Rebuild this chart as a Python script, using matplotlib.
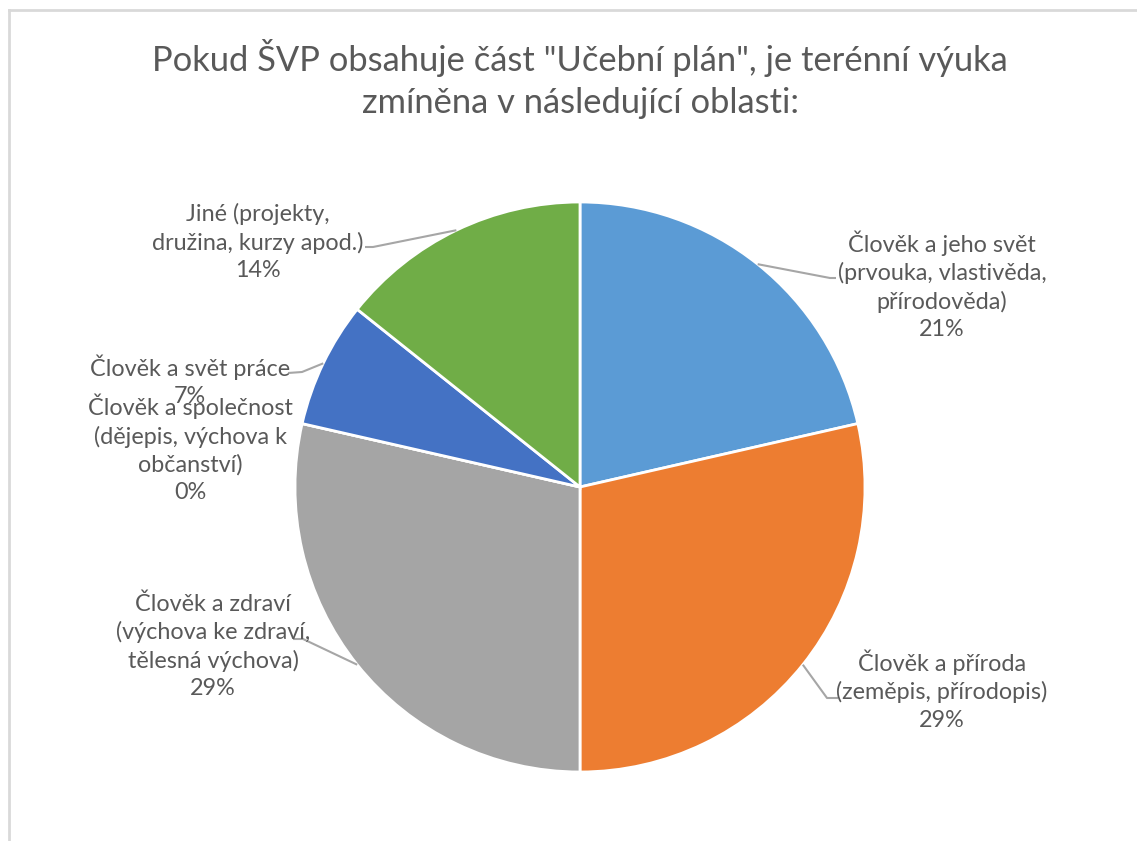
import numpy as np
import matplotlib.pyplot as plt
from matplotlib.lines import Line2D

# data (counts of schools, shown as percentages)
categories = [
    'Člověk a jeho svět\n(prvouka, vlastivěda,\npřírodověda)',
    'Člověk a příroda\n(zeměpis, přírodopis)',
    'Člověk a zdraví\n(výchova ke zdraví,\ntělesná výchova)',
    'Člověk a společnost\n(dějepis, výchova k\nobčanství)',
    'Člověk a svět práce',
    'Jiné (projekty,\ndružina, kurzy apod.)',
]
counts = [3, 4, 4, 0, 1, 2]
colors = ['#5B9BD5', '#ED7D31', '#A5A5A5', '#FFC000', '#4472C4', '#70AD47']

TITLE = 'Pokud ŠVP obsahuje část "Učební plán", je terénní výuka\nzmíněna v následující oblasti:'

# layout in pixels (figure 1137x841), pie centre + radius
W, H = 1137, 841
CX, CY, R = 580, 487, 285

# label centre (px), leader elbow (px), leader end near text (px)
label_pos = [(942, 285), (942, 690), (213, 646), (190, 448), (190, 381), (258, 242)]
elbows = [(830, 278), (827, 698), (303, 639), (302, 372), (373, 247)]
ends = [(836, 278), (838, 698), (293, 639), (288, 373), (365, 247)]
leader_idx = [0, 1, 2, 4, 5]

TXT = '#595959'
LINE = '#A6A6A6'

plt.rcParams['font.family'] = ['Lato', 'DejaVu Sans']


def px(x, y):
    return (x - CX) / R, (CY - y) / R


fig = plt.figure(figsize=(W / 100, H / 100), dpi=100)
ax = fig.add_axes([0, 0, 1, 1])

wedges, _ = ax.pie(counts, colors=colors, startangle=90, counterclock=False,
                   radius=1, wedgeprops=dict(edgecolor='white', linewidth=2))
ax.set_xlim(-CX / R, (W - CX) / R)
ax.set_ylim(-(H - CY) / R, CY / R)
ax.set_aspect('equal')
ax.axis('off')

total = sum(counts)
for i, (lab, c) in enumerate(zip(categories, counts)):
    pct = f'{round(100 * c / total)}%'
    x, y = px(*label_pos[i])
    ax.text(x, y, lab + '\n' + pct, ha='center', va='center', fontsize=16.8,
            color=TXT, linespacing=1.36)

for k, i in enumerate(leader_idx):
    w = wedges[i]
    mid = np.deg2rad((w.theta1 + w.theta2) / 2)
    ex, ey = np.cos(mid), np.sin(mid)
    bx, by = px(*elbows[k])
    tx, ty = px(*ends[k])
    ax.plot([ex, bx, tx], [ey, by, ty], color=LINE, lw=1.5, solid_capstyle='butt')

fig.text(CX / W, 1 - 79 / H, TITLE, ha='center', va='center', fontsize=24.8,
         color=TXT, linespacing=1.39)

# chart frame (right/bottom edges cut off in the original)
fig.add_artist(Line2D([9 / W, 9 / W], [1 - 10 / H, 0], color='#D9D9D9', lw=2))
fig.add_artist(Line2D([9 / W, 1], [1 - 10 / H, 1 - 10 / H], color='#D9D9D9', lw=2))

fig.savefig('out.png', dpi=100, facecolor='white')
